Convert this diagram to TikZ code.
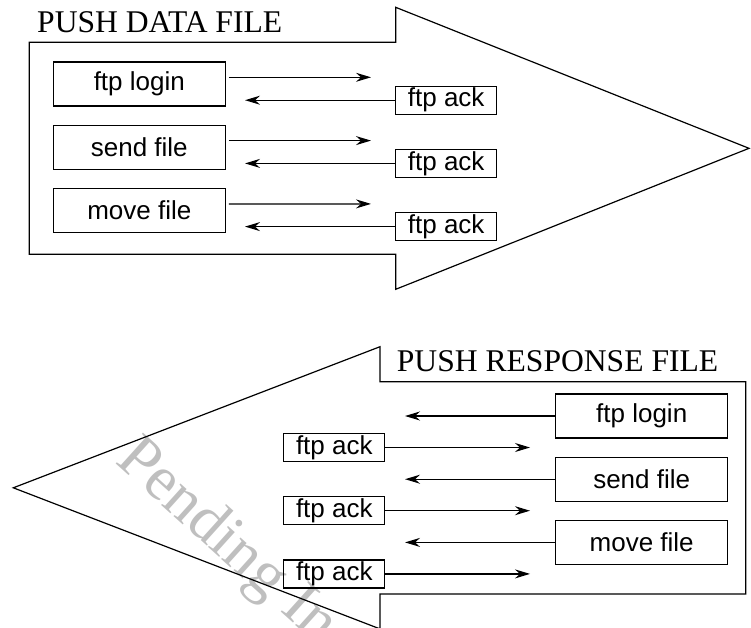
\documentclass[tikz,border=0pt]{standalone}
\usepackage{fontspec}
\setmainfont{Liberation Serif}
\newfontfamily\labelfont{Liberation Sans}
\usetikzlibrary{arrows.meta}
\usetikzlibrary{calc}

\begin{document}
\begin{tikzpicture}[x=1pt,y=-1pt,
	box/.style={draw,line width=1.2pt,minimum width=172pt,minimum height=44pt,inner sep=0pt,font=\labelfont\fontsize{26}{30}\selectfont},
	ackbox/.style={draw,line width=1.2pt,minimum width=101pt,minimum height=28pt,inner sep=0pt,font=\labelfont\fontsize{26}{30}\selectfont},
	msg/.style={line width=1.2pt,-{Stealth[length=15pt,width=9pt,inset=5pt]}},
	headline/.style={anchor=base west,inner sep=0pt,font=\fontsize{31.6}{36}\selectfont}]
	
	\useasboundingbox (0,0) rectangle (751,627);
	\clip (0,0) rectangle (751,627);
	
	% watermark
	\node [anchor=base west,inner sep=0pt,rotate=-42,text=black!25,font=\fontsize{63}{68}\selectfont] (stamp) at (114,462) {Pending In};
	
	% push data file
	\draw [line width=1.2pt] (29.3,42.3) -- (395.7,42.3) -- (395.7,7.3) -- (749,148.3) -- (395.7,289.3) -- (395.7,254.3) -- (29.3,254.3) -- cycle;
	\node [headline] (datatitle) at (37,32.7) {PUSH DATA FILE};
	
	\node [box] (login) at (139.3,84) {ftp login};
	\node [box] (send) at (139.3,147.3) {send file};
	\node [box] (move) at (139.3,210.6) {move file};
	
	\node [ackbox] (ack1) at (446.2,100.2) {ftp ack};
	\node [ackbox] (ack2) at (446.2,163.4) {ftp ack};
	\node [ackbox] (ack3) at (446.2,226.6) {ftp ack};
	
	\coordinate (loginto) at (371,77.3);
	\coordinate (sendto) at (371,140.6);
	\coordinate (moveto) at (371,203.9);
	\coordinate (ack1to) at (245,100.2);
	\coordinate (ack2to) at (245,163.4);
	\coordinate (ack3to) at (245,226.6);
	
	\draw [msg] ([shift={(3,-6.7)}]login.east) -- (loginto);
	\draw [msg] ([shift={(3,-6.7)}]send.east) -- (sendto);
	\draw [msg] ([shift={(3,-6.7)}]move.east) -- (moveto);
	\draw [msg] (ack1.west) -- (ack1to);
	\draw [msg] (ack2.west) -- (ack2to);
	\draw [msg] (ack3.west) -- (ack3to);
	
	% push response file
	\draw [line width=1.2pt] (745.7,381.7) -- (380,381.7) -- (380,346.7) -- (13.3,487.8) -- (380,628.9) -- (380,594) -- (745.7,594) -- cycle;
	\node [headline] (resptitle) at (396.7,371.7) {PUSH RESPONSE FILE};
	
	\node [box] (rlogin) at (641.7,416) {ftp login};
	\node [box] (rsend) at (641.7,479.2) {send file};
	\node [box] (rmove) at (641.7,542.4) {move file};
	
	\node [ackbox] (rack1) at (334.3,447.5) {ftp ack};
	\node [ackbox] (rack2) at (334.3,510.7) {ftp ack};
	\node [ackbox] (rack3) at (334.3,573.9) {ftp ack};
	
	\coordinate (rloginto) at (405,416);
	\coordinate (rsendto) at (405,479.2);
	\coordinate (rmoveto) at (405,542.4);
	\coordinate (rack1to) at (530,447.5);
	\coordinate (rack2to) at (530,510.7);
	\coordinate (rack3to) at (530,573.9);
	
	\draw [msg] (rlogin.west) -- (rloginto);
	\draw [msg] (rsend.west) -- (rsendto);
	\draw [msg] (rmove.west) -- (rmoveto);
	\draw [msg] (rack1.east) -- (rack1to);
	\draw [msg] (rack2.east) -- (rack2to);
	\draw [msg] (rack3.east) -- (rack3to);
	
\end{tikzpicture}
\end{document}
